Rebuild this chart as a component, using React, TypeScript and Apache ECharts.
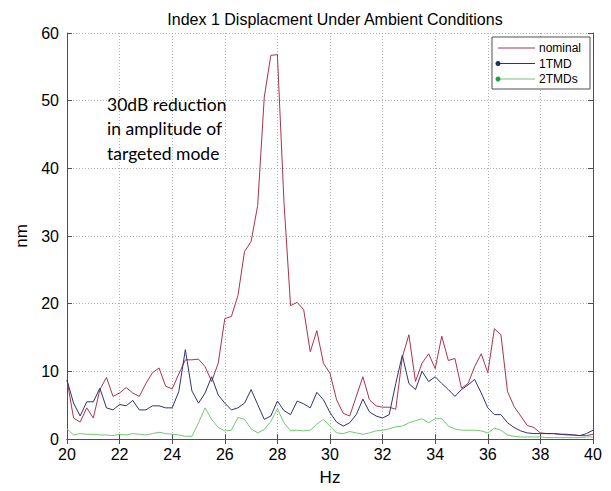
import React, { useEffect, useRef } from "react";
import * as echarts from "echarts";

const freq = [
  20.0, 20.25, 20.5, 20.75, 21.0, 21.25, 21.5, 21.75, 22.0, 22.25, 22.5, 22.75,
  23.0, 23.25, 23.5, 23.75, 24.0, 24.25, 24.5, 24.75, 25.0, 25.25, 25.5, 25.75,
  26.0, 26.25, 26.5, 26.75, 27.0, 27.25, 27.5, 27.75, 28.0, 28.25, 28.5, 28.75,
  29.0, 29.25, 29.5, 29.75, 30.0, 30.25, 30.5, 30.75, 31.0, 31.25, 31.5, 31.75,
  32.0, 32.25, 32.5, 32.75, 33.0, 33.25, 33.5, 33.75, 34.0, 34.25, 34.5, 34.75,
  35.0, 35.25, 35.5, 35.75, 36.0, 36.25, 36.5, 36.75, 37.0, 37.25, 37.5, 37.75,
  38.0, 38.25, 38.5, 38.75, 39.0, 39.25, 39.5, 39.75, 40.0,
];

const nominal = [
  8.7, 3.1, 2.5, 4.6, 3.1, 7.3, 9.1, 6.3, 6.8, 7.6, 6.8, 6.3,
  8.2, 9.8, 10.5, 7.8, 7.4, 9.6, 11.7, 11.7, 11.8, 10.7, 8.5, 11.2,
  17.8, 18.1, 21.2, 27.7, 29.2, 34.5, 50.5, 56.7, 56.8, 35.0, 19.7, 20.2,
  19.1, 12.9, 16.0, 11.2, 9.7, 5.8, 3.8, 3.4, 6.3, 9.2, 5.8, 4.9,
  4.7, 4.7, 4.4, 12.1, 15.4, 8.5, 11.2, 12.6, 10.4, 15.2, 11.6, 11.9,
  7.5, 8.2, 10.7, 12.6, 9.8, 16.3, 15.4, 7.0, 4.8, 3.4, 2.0, 1.7,
  0.9, 0.8, 0.8, 0.7, 0.6, 0.6, 0.5, 0.5, 0.7,
];

const oneTMD = [
  8.7, 5.3, 3.4, 5.5, 5.5, 7.5, 4.6, 4.3, 5.1, 4.9, 5.7, 4.3,
  4.3, 4.9, 4.9, 4.6, 4.6, 7.0, 13.2, 7.1, 5.3, 6.8, 9.2, 6.5,
  5.3, 4.3, 4.6, 5.3, 7.3, 5.1, 2.9, 3.4, 5.6, 4.2, 3.6, 5.6,
  5.2, 4.6, 6.9, 5.8, 3.9, 2.5, 1.9, 2.4, 3.6, 5.9, 4.0, 3.4,
  3.1, 3.6, 8.2, 12.4, 8.2, 7.3, 10.0, 8.5, 9.2, 8.2, 7.3, 6.3,
  7.3, 8.0, 8.8, 6.8, 4.6, 3.6, 3.6, 2.4, 1.7, 1.2, 0.9, 0.8,
  0.8, 0.8, 0.8, 0.7, 0.7, 0.6, 0.5, 0.8, 1.3,
];

const twoTMDs = [
  1.5, 0.6, 0.8, 0.7, 0.7, 0.6, 0.6, 0.5, 0.7, 0.6, 0.8, 0.7,
  0.6, 0.8, 1.0, 0.8, 0.7, 0.6, 0.4, 0.4, 2.4, 4.6, 2.9, 1.7,
  1.2, 1.3, 3.2, 2.9, 1.5, 0.9, 1.4, 2.6, 4.5, 2.4, 1.2, 1.3,
  1.2, 1.3, 2.2, 2.9, 1.9, 0.9, 0.8, 1.1, 0.9, 0.7, 0.9, 1.2,
  1.3, 1.5, 1.8, 1.9, 2.4, 2.7, 3.0, 2.4, 3.0, 3.0, 1.9, 1.5,
  1.3, 1.3, 1.3, 1.2, 0.9, 1.6, 1.3, 0.6, 0.4, 0.3, 0.3, 0.3,
  0.3, 0.2, 0.2, 0.2, 0.2, 0.2, 0.2, 0.3, 0.3,
];

const seriesNames = ["nominal", "1TMD", "2TMDs"];
const seriesColors = ["#a8344c", "#2e3374", "#74c874"];
const title = "Index 1 Displacment Under Ambient Conditions";
const annotation = ["30dB reduction", "in amplitude of", "targeted mode"];

export default function App() {
  const ref = useRef<HTMLDivElement>(null);
  useEffect(() => {
    if (!ref.current) return;
    const chart = echarts.init(ref.current, null, { renderer: "svg" });
    const font = "'Liberation Sans', Arial, sans-serif";
    const axisLine = { show: true, lineStyle: { color: "#505050", width: 1 } };
    const grid = { left: 67, right: 18, top: 33, bottom: 48 };
    const toPairs = (vals: number[]) => freq.map((f, i) => [f, vals[i]]);
    const legendGraphic: any[] = [
      {
        type: "rect",
        shape: { x: 492, y: 37, width: 98, height: 52 },
        style: { fill: "#fff", stroke: "#505050", lineWidth: 1 },
        z: 100,
      },
    ];
    const rowsY = [48, 63.5, 79];
    seriesNames.forEach((n, i) => {
      legendGraphic.push({
        type: "line",
        shape: { x1: 498, y1: rowsY[i], x2: 535, y2: rowsY[i] },
        style: { stroke: seriesColors[i], lineWidth: 1 },
        z: 101,
      });
      if (i > 0) {
        legendGraphic.push({
          type: "circle",
          shape: { cx: 498, cy: rowsY[i], r: 2.5 },
          style: { fill: i === 1 ? "#1f2f6a" : "#2a9a4a" },
          z: 102,
        });
      }
      legendGraphic.push({
        type: "text",
        x: 539,
        y: rowsY[i],
        style: {
          text: n,
          font: `12px ${font}`,
          fill: "#000",
          verticalAlign: "middle",
        },
        z: 101,
      });
    });
    const annoGraphic = annotation.map((t, i) => ({
      type: "text",
      left: 107,
      top: 95 + i * 24.5,
      style: { text: t, font: "17.5px Lato, 'Open Sans', sans-serif", fill: "#000" },
      z: 50,
    }));

    chart.setOption({
      animation: false,
      backgroundColor: "#fff",
      title: {
        text: title,
        left: 330,
        textAlign: "center",
        top: 6,
        textStyle: { fontFamily: font, fontSize: 16, fontWeight: "normal", color: "#000" },
      },
      grid,
      xAxis: [
        {
          type: "value",
          min: 20,
          max: 40,
          interval: 2,
          name: "Hz",
          nameLocation: "middle",
          nameGap: 30,
          nameTextStyle: { fontFamily: font, fontSize: 17, color: "#000" },
          axisLine,
          axisTick: { show: true, inside: true, length: 5, lineStyle: { color: "#505050" } },
          axisLabel: { fontFamily: font, fontSize: 16, color: "#000", margin: 7 },
          splitLine: { show: true, lineStyle: { color: "#b0b0b0", type: [1, 2], width: 1 } },
        },
        {
          type: "value",
          position: "top",
          min: 20,
          max: 40,
          interval: 2,
          axisLine,
          axisTick: { show: true, inside: true, length: 5, lineStyle: { color: "#505050" } },
          axisLabel: { show: false },
          splitLine: { show: false },
        },
      ],
      yAxis: [
        {
          type: "value",
          min: 0,
          max: 60,
          interval: 10,
          name: "nm",
          nameLocation: "middle",
          nameGap: 33,
          nameTextStyle: { fontFamily: font, fontSize: 17, color: "#000" },
          axisLine,
          axisTick: { show: true, inside: true, length: 5, lineStyle: { color: "#505050" } },
          axisLabel: { fontFamily: font, fontSize: 16, color: "#000", margin: 8 },
          splitLine: { show: true, lineStyle: { color: "#b0b0b0", type: [1, 2], width: 1 } },
        },
        {
          type: "value",
          position: "right",
          min: 0,
          max: 60,
          interval: 10,
          axisLine,
          axisTick: { show: true, inside: true, length: 5, lineStyle: { color: "#505050" } },
          axisLabel: { show: false },
          splitLine: { show: false },
        },
      ],
      series: [nominal, oneTMD, twoTMDs].map((vals, i) => ({
        name: seriesNames[i],
        type: "line",
        data: toPairs(vals),
        showSymbol: false,
        symbol: "none",
        lineStyle: { color: seriesColors[i], width: 1 },
        itemStyle: { color: seriesColors[i] },
        z: 2 + i,
      })),
      graphic: [...annoGraphic, ...legendGraphic],
    });
    return () => chart.dispose();
  }, []);
  return <div ref={ref} style={{ width: 611, height: 491, margin: -8 }} />;
}
